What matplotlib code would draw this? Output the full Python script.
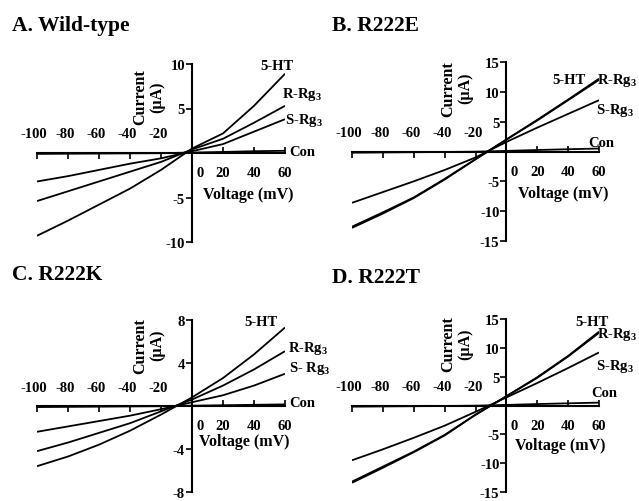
import matplotlib
matplotlib.use("Agg")
import matplotlib.pyplot as plt
from matplotlib.transforms import offset_copy

plt.rcParams['font.family'] = ['Liberation Serif', 'DejaVu Serif']
plt.rcParams['font.weight'] = 'bold'
plt.rcParams['mathtext.fontset'] = 'custom'
plt.rcParams['mathtext.rm'] = 'Liberation Serif:bold'
plt.rcParams['mathtext.it'] = 'Liberation Serif:bold'
plt.rcParams['mathtext.bf'] = 'Liberation Serif:bold'

# ---------------- data ----------------
voltage = [-100, -80, -60, -40, -20, 0, 20, 40, 60]

# A. Wild-type
a_5ht = [-9.3, -7.6, -5.8, -4.0, -1.9, 0.5, 2.2, 5.3, 8.9]
a_rrg = [-5.4, -4.3, -3.2, -2.1, -1.0, 0.4, 1.6, 3.4, 5.3]
a_srg = [-3.2, -2.6, -1.9, -1.2, -0.6, 0.2, 1.0, 2.4, 3.8]
a_con = [-0.1, -0.08, -0.06, -0.04, -0.02, 0.05, 0.12, 0.2, 0.25]

# B. R222E
b_5ht = [-12.8, -10.4, -7.8, -4.7, -1.3, 2.0, 5.3, 8.7, 12.2]
b_rrg = [-12.6, -10.2, -7.7, -4.6, -1.3, 2.0, 5.2, 8.6, 12.0]
b_srg = [-8.6, -6.8, -5.0, -3.1, -1.0, 1.6, 4.0, 6.3, 8.6]
b_con = [-0.2, -0.16, -0.12, -0.08, -0.03, 0.1, 0.25, 0.38, 0.5]

# C. R222K
c_5ht = [-5.6, -4.7, -3.6, -2.3, -0.8, 0.8, 2.6, 4.8, 7.3]
c_rrg = [-4.2, -3.4, -2.5, -1.6, -0.5, 0.6, 1.9, 3.4, 5.1]
c_srg = [-2.4, -1.9, -1.4, -0.9, -0.3, 0.35, 1.0, 1.9, 3.0]
c_con = [-0.1, -0.08, -0.06, -0.04, -0.02, 0.03, 0.07, 0.11, 0.15]

# D. R222T
d_5ht = [-13.4, -10.8, -8.1, -5.2, -1.6, 1.6, 4.9, 8.6, 12.8]
d_rrg = [-13.2, -10.6, -8.0, -5.1, -1.6, 1.6, 4.8, 8.5, 12.6]
d_srg = [-9.5, -7.6, -5.6, -3.5, -1.1, 1.4, 3.9, 6.5, 9.2]
d_con = [-0.2, -0.16, -0.12, -0.08, -0.03, 0.1, 0.25, 0.38, 0.5]

titles = ["A. Wild-type", "B. R222E", "C. R222K", "D. R222T"]
neg_ticks = [-100, -80, -60, -40, -20]
pos_ticks = [20, 40, 60]
pos_labels = ["0", "20", "40", "60"]
y_ticks_a = [-10, -5, 5, 10]
y_ticks_b = [-15, -10, -5, 5, 10, 15]
y_ticks_c = [-8, -4, 4, 8]
curve_names = ["5-HT", "R-Rg$_3$", "S-Rg$_3$", "Con"]
curve_names_c = ["5-HT", "R-Rg$_3$", "S- Rg$_3$", "Con"]

panels = [
    dict(rect=[37/639, 1-243/502, 248/639, 178/502], title=titles[0], tpos=(12/639, 1-26/502),
         series=[a_5ht, a_rrg, a_srg, a_con], ylim=10, yticks=y_ticks_a, names=curve_names,
         lab_pos=[(44, 9.8), (58, 6.7), (60, 3.8), (62.5, 0.2)],
         ylab=(-28, 6.4), xlab=(36, -4.6)),
    dict(rect=[352/639, 1-242/502, 247/639, 179/502], title=titles[1], tpos=(332/639, 1-26/502),
         series=[b_5ht, b_rrg, b_srg, b_con], ylim=15, yticks=y_ticks_b, names=curve_names,
         lab_pos=[(30, 12.1), (59, 12.1), (58, 7.0), (53, 1.5)],
         ylab=(-32, 10.7), xlab=(37, -6.9)),
    dict(rect=[37/639, 1-493/502, 248/639, 172/502], title=titles[2], tpos=(12/639, 1-275/502),
         series=[c_5ht, c_rrg, c_srg, c_con], ylim=8, yticks=y_ticks_c, names=curve_names_c,
         lab_pos=[(34, 7.9), (62, 5.4), (62.5, 3.6), (63, 0.35)],
         ylab=(-28, 5.7), xlab=(34, -3.3)),
    dict(rect=[352/639, 1-493/502, 247/639, 173/502], title=titles[3], tpos=(332/639, 1-278/502),
         series=[d_5ht, d_rrg, d_srg, d_con], ylim=15, yticks=y_ticks_b, names=curve_names,
         lab_pos=[(44.7, 14.6), (59, 12.4), (58, 6.9), (55, 2.2)],
         ylab=(-32, 10.8), xlab=(35, -6.9)),
]

fig = plt.figure(figsize=(6.39, 5.02), dpi=100)

for p in panels:
    ax = fig.add_axes(p['rect'])
    for s in p['series']:
        ax.plot(voltage, s, color='black', lw=1.3, solid_capstyle='butt')
    ax.set_xlim(-100, 60)
    ax.set_ylim(-p['ylim'], p['ylim'])
    ax.patch.set_visible(False)
    for side in ['top', 'right']:
        ax.spines[side].set_visible(False)
    ax.spines['left'].set_position(('data', 0))
    ax.spines['bottom'].set_position(('data', 0))
    ax.spines['left'].set_linewidth(1.5)
    ax.spines['bottom'].set_linewidth(1.5)
    ax.set_xticks(neg_ticks)
    ax.set_xticks(pos_ticks, minor=True)
    ax.tick_params(axis='x', which='major', direction='out', length=4, width=1.2,
                   labelbottom=False)
    ax.tick_params(axis='x', which='minor', direction='in', length=4, width=1.2,
                   labelbottom=False)
    ax.set_yticks(p['yticks'])
    ax.set_yticklabels([str(v) for v in p['yticks']])
    ax.tick_params(axis='y', direction='out', length=4, width=1.2, pad=1, labelsize=10.5)
    for lab in ax.get_yticklabels():
        lab.set_fontweight('bold')

    # x tick labels: negatives above the axis, positives below
    above = offset_copy(ax.transData, fig=fig, x=-2, y=9, units='points')
    below = offset_copy(ax.transData, fig=fig, x=0, y=-9.5, units='points')
    for v in neg_ticks:
        ax.text(v, 0, str(v), transform=above, ha='center', va='bottom',
                fontsize=10.5, fontweight='bold')
    for v, lab in zip([5] + pos_ticks, pos_labels):
        ax.text(v, 0, lab, transform=below, ha='center', va='top',
                fontsize=10.5, fontweight='bold')

    # axis labels
    ax.text(p['ylab'][0], p['ylab'][1], "Current\n(\u00b5A)", rotation=90,
            ha='center', va='center', fontsize=11.5, fontweight='bold',
            linespacing=1.1)
    ax.text(p['xlab'][0], p['xlab'][1], "Voltage (mV)", ha='center', va='center',
            fontsize=11.5, fontweight='bold')

    # curve labels
    for name, (lx, ly) in zip(p['names'], p['lab_pos']):
        ax.text(lx, ly, name, ha='left', va='center', fontsize=10.5,
                fontweight='bold', clip_on=False)

    fig.text(p['tpos'][0], p['tpos'][1], p['title'], ha='left', va='center',
             fontsize=15.5, fontweight='bold')

fig.savefig("out.png", dpi=100)
